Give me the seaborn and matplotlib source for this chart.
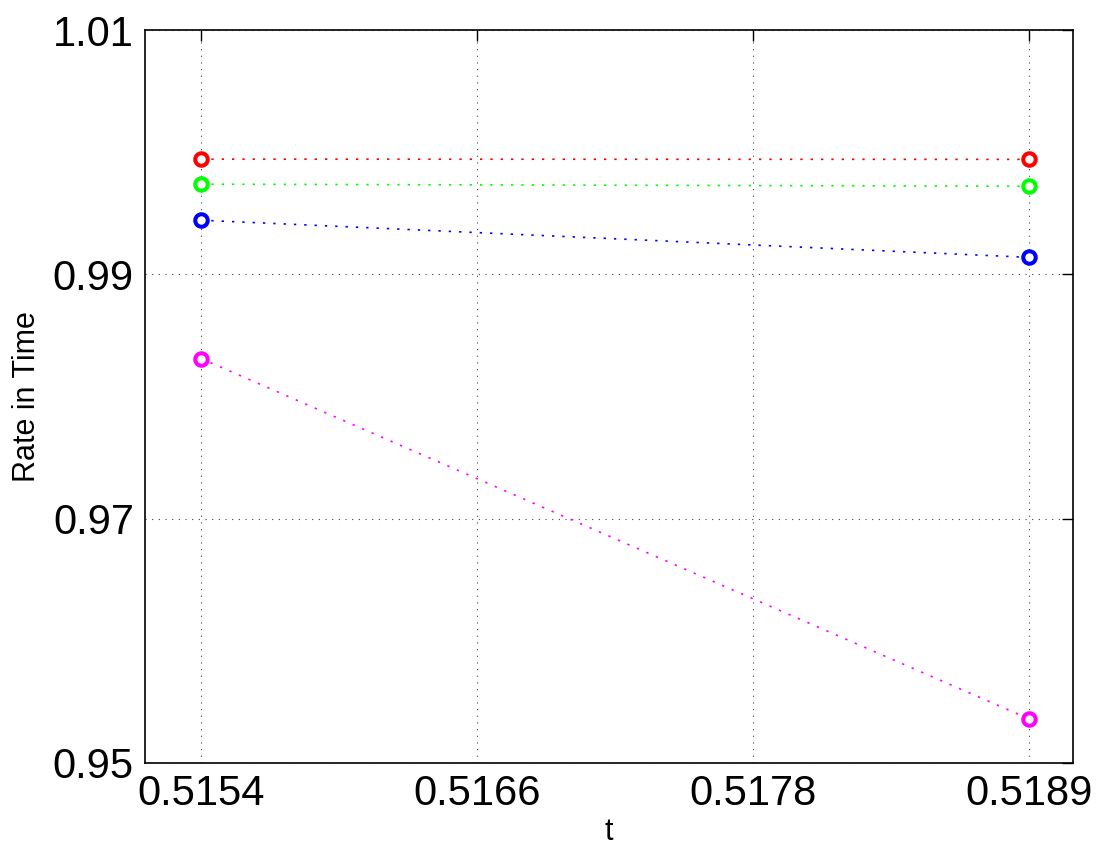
import matplotlib
matplotlib.use("Agg")
import matplotlib.pyplot as plt
import seaborn as sns
import numpy as np
import pandas as pd

# data
t_vals = [0.51544, 0.51893]
red_vals = [0.99943, 0.99941]
green_vals = [0.99738, 0.99721]
blue_vals = [0.99443, 0.99139]
magenta_vals = [0.98311, 0.95361]

series_names = ["red", "green", "blue", "magenta"]
series_colors = ["#ff0000", "#00ff00", "#0000ff", "#ff00ff"]

x_ticks = np.linspace(t_vals[0], t_vals[1], 4)
x_tick_labels = ["0.5154", "0.5166", "0.5178", "0.5189"]
y_ticks = [0.95, 0.97, 0.99, 1.01]
y_tick_labels = ["0.95", "0.97", "0.99", "1.01"]

df = pd.DataFrame({
    "t": t_vals * 4,
    "rate": red_vals + green_vals + blue_vals + magenta_vals,
    "series": sum([[n] * 2 for n in series_names], []),
})

sns.set_theme(style="white")
plt.rcParams["font.family"] = ["Liberation Sans", "DejaVu Sans"]
plt.rcParams["text.color"] = "black"
plt.rcParams["axes.labelcolor"] = "black"

fig = plt.figure(figsize=(11.03, 8.57), dpi=100)
ax = fig.add_axes([145 / 1103, 1 - 763 / 857, (1073 - 145) / 1103, (763 - 30) / 857])

sns.lineplot(data=df, x="t", y="rate", hue="series", palette=series_colors,
             hue_order=series_names, ax=ax, legend=False,
             linewidth=1.2, marker="o", zorder=3)
# matlab style: dotted lines, open thick circles
for line, c in zip(ax.lines, series_colors):
    line.set_linestyle((0, (1.4, 4.8)))
    line.set_marker("o")
    line.set_markersize(9)
    line.set_markerfacecolor("white")
    line.set_markeredgecolor(c)
    line.set_markeredgewidth(2.9)

ax.set_xlim(0.515204, 0.519115)
ax.set_ylim(0.95, 1.01)
ax.set_xticks(x_ticks)
ax.set_xticklabels(x_tick_labels)
ax.set_yticks(y_ticks)
ax.set_yticklabels(y_tick_labels)

ax.grid(True, color="#444444", linestyle=(0, (1, 5)), linewidth=0.8)
for s in ax.spines.values():
    s.set_color("black")
    s.set_linewidth(1.2)
ax.tick_params(direction="in", length=8, width=1, colors="black",
               labelsize=30, top=True, right=True, pad=8)
ax.set_xlabel("t", fontsize=22, labelpad=2, color="black")
ax.set_ylabel("Rate in Time", fontsize=22, labelpad=8, color="black")

fig.savefig("out.png", dpi=100, facecolor="white")
